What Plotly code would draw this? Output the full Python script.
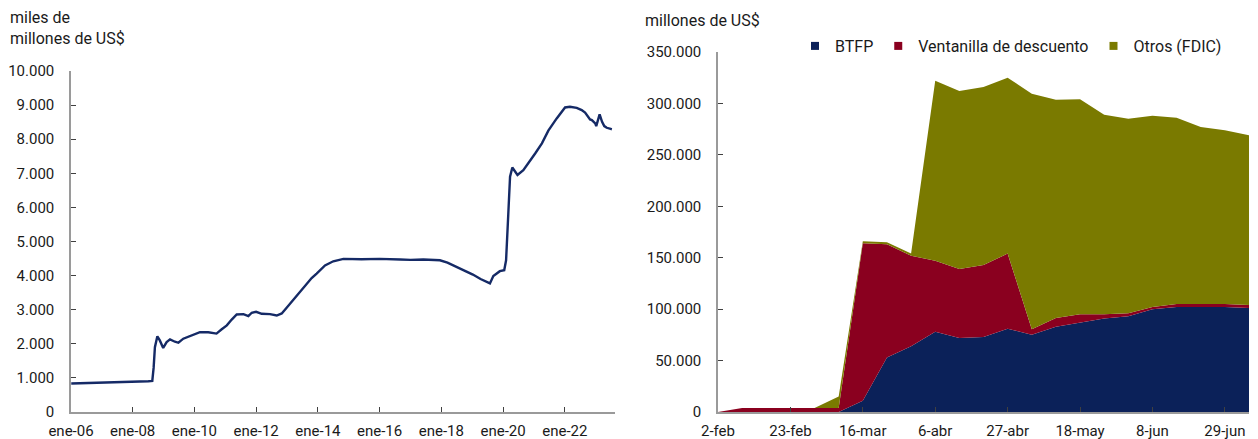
import plotly.graph_objects as go

# --- left panel: total assets (miles de millones de US$) ---
fed_dates = [
    "2006-01-04", "2006-07-05", "2007-01-03", "2007-07-04", "2008-01-02", "2008-07-05",
    "2008-08-20", "2008-09-05", "2008-09-20", "2008-10-19", "2008-11-17", "2008-12-27",
    "2009-02-06", "2009-03-18", "2009-05-15", "2009-06-25", "2009-08-22", "2009-10-19",
    "2009-12-17", "2010-03-07", "2010-06-13", "2010-09-19", "2010-11-16", "2011-01-19",
    "2011-03-18", "2011-05-16", "2011-08-04", "2011-10-01", "2011-11-10", "2012-01-01",
    "2012-03-07", "2012-06-13", "2012-09-01", "2012-10-30", "2012-12-27", "2013-03-18",
    "2013-07-13", "2013-10-19", "2013-12-17", "2014-03-26", "2014-07-02", "2014-10-30",
    "2015-06-01", "2016-01-01", "2016-09-01", "2017-01-01", "2017-06-01", "2017-12-15",
    "2018-03-14", "2018-08-15", "2019-01-09", "2019-04-10", "2019-06-20", "2019-07-30",
    "2019-09-08", "2019-11-24", "2020-01-15", "2020-02-06", "2020-03-03", "2020-03-24",
    "2020-04-20", "2020-05-18", "2020-06-20", "2020-08-28", "2020-11-17", "2021-01-15",
    "2021-04-05", "2021-06-20", "2021-09-27", "2022-01-04", "2022-03-03", "2022-05-22",
    "2022-07-20", "2022-08-29", "2022-10-27", "2022-11-17", "2022-12-27", "2023-01-08",
    "2023-02-17", "2023-03-18", "2023-04-13", "2023-05-12", "2023-06-28", "2023-07-12",
]
fed_assets = [
    835, 845, 860, 875, 890, 900,
    910, 1300, 1900, 2220, 2100, 1880,
    2050, 2130, 2060, 2030, 2150, 2200,
    2270, 2340, 2340, 2300, 2420, 2540,
    2710, 2860, 2870, 2810, 2910, 2940,
    2880, 2870, 2830, 2890, 3060, 3300,
    3640, 3930, 4060, 4300, 4420, 4490,
    4480, 4490, 4470, 4460, 4470, 4450,
    4380, 4210, 4030, 3900, 3820, 3770,
    3990, 4130, 4160, 4450, 5800, 6900,
    7170, 7050, 6950, 7090, 7360, 7580,
    7880, 8250, 8610, 8930, 8950, 8920,
    8855, 8780, 8580, 8560, 8465, 8385,
    8730, 8510, 8385, 8335, 8300, 8290,
]
left_tick_dates = ["2006-01-01", "2008-01-01", "2010-01-01", "2012-01-01",
                   "2014-01-01", "2016-01-01", "2018-01-01", "2020-01-01", "2022-01-01"]
left_tick_text = ["ene-06", "ene-08", "ene-10", "ene-12", "ene-14",
                  "ene-16", "ene-18", "ene-20", "ene-22"]

# --- right panel: weekly lending (millones de US$) ---
weeks = ["2023-02-02", "2023-02-09", "2023-02-16", "2023-02-23", "2023-03-02", "2023-03-09",
         "2023-03-16", "2023-03-23", "2023-03-30", "2023-04-06", "2023-04-13", "2023-04-20",
         "2023-04-27", "2023-05-04", "2023-05-11", "2023-05-18", "2023-05-25", "2023-06-01",
         "2023-06-08", "2023-06-15", "2023-06-22", "2023-06-29", "2023-07-06"]
btfp = [0, 0, 0, 0, 0, 0, 11000, 53000, 64000, 78000, 72000, 73000,
        81000, 75000, 83000, 87000, 91000, 93000, 100000, 102000, 102000, 102000, 101000]
ventanilla = [0, 4000, 4000, 4000, 4000, 4000, 153000, 110000, 88000, 69000, 67000, 70000,
              73000, 5500, 8500, 8000, 4000, 3000, 2000, 3000, 3000, 3000, 3000]
otros = [0, 0, 0, 0, 0, 11000, 2000, 2000, 2000, 175000, 173000, 173000,
         171000, 229000, 212000, 209000, 194000, 189000, 186000, 181000, 172000, 169000, 165000]
right_tick_dates = ["2023-02-02", "2023-02-23", "2023-03-16", "2023-04-06",
                    "2023-04-27", "2023-05-18", "2023-06-08", "2023-06-29"]
right_tick_text = ["2-feb", "23-feb", "16-mar", "6-abr", "27-abr", "18-may", "8-jun", "29-jun"]

NAVY = "#0b2159"
RED = "#8a001f"
OLIVE = "#7a7a00"
AXIS = "#9a9a9a"
TICK = "#404040"
W, H = 1258, 439

fig = go.Figure()

fig.add_trace(go.Scatter(x=fed_dates, y=fed_assets, mode="lines",
                         line=dict(color="#152a66", width=2.4),
                         xaxis="x", yaxis="y", showlegend=False))

series = [("BTFP", btfp, NAVY), ("Ventanilla de descuento", ventanilla, RED),
          ("Otros (FDIC)", otros, OLIVE)]
for name, vals, col in series:
    fig.add_trace(go.Scatter(x=weeks, y=vals, mode="lines", stackgroup="one",
                             line=dict(width=0, color=col), fillcolor=col,
                             xaxis="x2", yaxis="y2", showlegend=False, hoverinfo="x+y"))
    # legend key (square marker)
    fig.add_trace(go.Scatter(x=[None], y=[None], mode="markers", name=name,
                             marker=dict(symbol="square", size=8, color=col),
                             xaxis="x2", yaxis="y2"))

axis_common = dict(showgrid=False, zeroline=False, showline=True, linecolor=AXIS,
                   linewidth=1.5, ticks="inside", ticklen=5, tickcolor=TICK,
                   tickfont=dict(size=15, color="#1a1a1a"), automargin=False)

fig.update_layout(
    template="none",
    width=W, height=H,
    margin=dict(l=0, r=0, t=0, b=0),
    paper_bgcolor="white", plot_bgcolor="white",
    font=dict(family="Roboto, Arial, sans-serif", size=15, color="#1a1a1a"),
    separators=",.",
    xaxis=dict(axis_common, type="date", domain=[71 / W, 615 / W],
               range=["2006-01-01", "2023-08-18"],
               tickmode="array", tickvals=left_tick_dates, ticktext=left_tick_text,
               anchor="y", ticklabelstandoff=4),
    yaxis=dict(axis_common, domain=[1 - 412 / H, 1 - 71 / H], range=[0, 10000],
               dtick=1000, tickformat=",d", anchor="x", ticklabelstandoff=12),
    xaxis2=dict(axis_common, type="date", domain=[718 / W, 1249 / W],
                range=["2023-02-02", "2023-07-06"],
                tickmode="array", tickvals=right_tick_dates, ticktext=right_tick_text,
                anchor="y2", ticklabelstandoff=4),
    yaxis2=dict(axis_common, domain=[1 - 412 / H, 1 - 52 / H], range=[0, 350000],
                dtick=50000, tickformat=",d", anchor="x2", ticklabelstandoff=12),
    legend=dict(orientation="h", x=795 / W, y=1 - 29 / H, xanchor="left", yanchor="top",
                font=dict(size=16), bgcolor="rgba(0,0,0,0)", itemwidth=30,
                traceorder="normal"),
    annotations=[
        dict(text="miles de<br>millones de US$", x=8 / W, y=1 - 6 / H, xref="paper",
             yref="paper", xanchor="left", yanchor="top", showarrow=False,
             align="left", font=dict(size=16)),
        dict(text="millones de US$", x=643 / W, y=1 - 9 / H, xref="paper",
             yref="paper", xanchor="left", yanchor="top", showarrow=False,
             align="left", font=dict(size=16)),
    ],
)

fig.write_html("out.html", config={"displayModeBar": False},
               post_script="document.body.style.margin='0';")
